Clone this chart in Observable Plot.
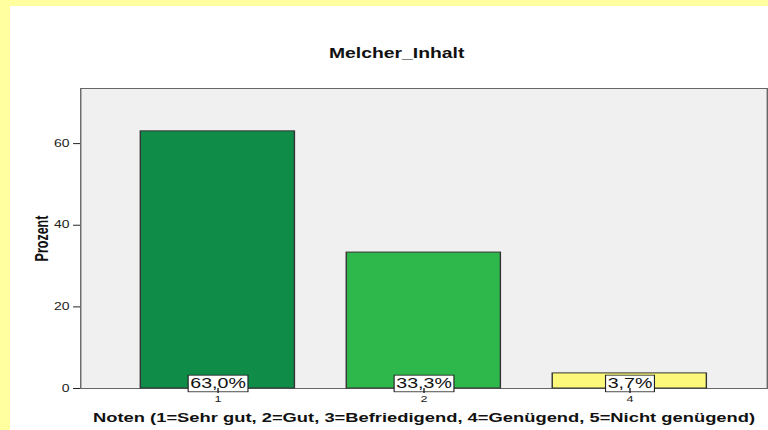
<!DOCTYPE html>
<html><head><meta charset="utf-8">
<script src="https://cdn.jsdelivr.net/npm/d3@7"></script>
<script src="https://cdn.jsdelivr.net/npm/@observablehq/plot@0.6"></script>
<style>
html,body{margin:0;padding:0;background:#ffffa0;width:768px;height:430px;overflow:hidden;}
#wrap{position:absolute;left:10px;top:6px;width:541px;height:424px;background:#fff;transform-origin:0 0;transform:scaleX(1.4011);font-family:"Liberation Sans",Arial,sans-serif;}
#title{position:absolute;top:41px;left:176px;width:200px;text-align:center;font-weight:bold;font-size:13.8px;line-height:1;color:#111;}
#chart{position:absolute;left:0;top:0;}
svg text{font-family:"Liberation Sans",Arial,sans-serif;}
g[aria-label="y-axis label"] text{font-weight:bold;font-size:12.5px;fill:#111;}
g[aria-label="x-axis label"] text{font-weight:bold;font-size:13.1px;fill:#111;}
</style>
</head><body>
<div id="wrap"><div id="title"></div><div id="chart"></div></div>
<script>
const grades = ["1", "2", "4"];
const percents = [63.0, 33.3, 3.7];
const barColors = ["#0f8c48", "#2eb84b", "#fbf87a"];
const yTicks = [0, 20, 40, 60];
const titleText = "Melcher_Inhalt";
const xLabel = "Noten (1=Sehr gut, 2=Gut, 3=Befriedigend, 4=Genügend, 5=Nicht genügend)";
const yLabel = "Prozent";

document.getElementById("title").textContent = titleText;
const data = grades.map((g, i) => ({grade: g, pct: percents[i], color: barColors[i]}));
const fmt = v => v.toFixed(1).replace(".", ",") + "%";

const chart = Plot.plot({
  width: 541, height: 424,
  marginLeft: 50, marginRight: 1, marginTop: 82, marginBottom: 42,
  style: {background: "transparent", fontFamily: "Liberation Sans, Arial, sans-serif", fontSize: "10px", color: "#222"},
  x: {domain: grades, paddingInner: 0.25, paddingOuter: 0.29, label: null},
  y: {domain: [0, 73.5], label: null},
  color: {type: "identity"},
  marks: [
    Plot.frame({fill: "#f0f0f0", stroke: "#666"}),
    Plot.barY(data, {x: "grade", y: "pct", fill: "color", stroke: "#333", strokeWidth: 1}),
    Plot.text(data, {x: "grade", y: 0, text: d => fmt(d.pct), fontSize: 14, lineAnchor: "bottom", dy: -1, fill: "#111"}),
    Plot.axisY({ticks: yTicks, tickSize: 5, tickPadding: 3, label: yLabel, labelAnchor: "center", labelOffset: 32, labelArrow: "none", fontSize: 10}),
    Plot.axisX({tickSize: 5, tickPadding: 2, label: xLabel, labelAnchor: "center", labelOffset: 33, labelArrow: "none", fontSize: 9})
  ]
});
document.getElementById("chart").append(chart);

const ns = "http://www.w3.org/2000/svg";
const tg = chart.querySelector('g[aria-label="text"]');
if (tg) {
  tg.querySelectorAll("text").forEach(t => {
    const b = t.getBBox();
    const r = document.createElementNS(ns, "rect");
    const tr = t.getAttribute("transform");
    if (tr) r.setAttribute("transform", tr);
    r.setAttribute("x", b.x - 1.5);
    r.setAttribute("y", b.y);
    r.setAttribute("width", b.width + 3);
    r.setAttribute("height", b.height + 1);
    r.setAttribute("fill", "#fff");
    r.setAttribute("stroke", "#222");
    r.setAttribute("stroke-width", 0.8);
    tg.insertBefore(r, t);
  });
}
</script>
</body></html>
